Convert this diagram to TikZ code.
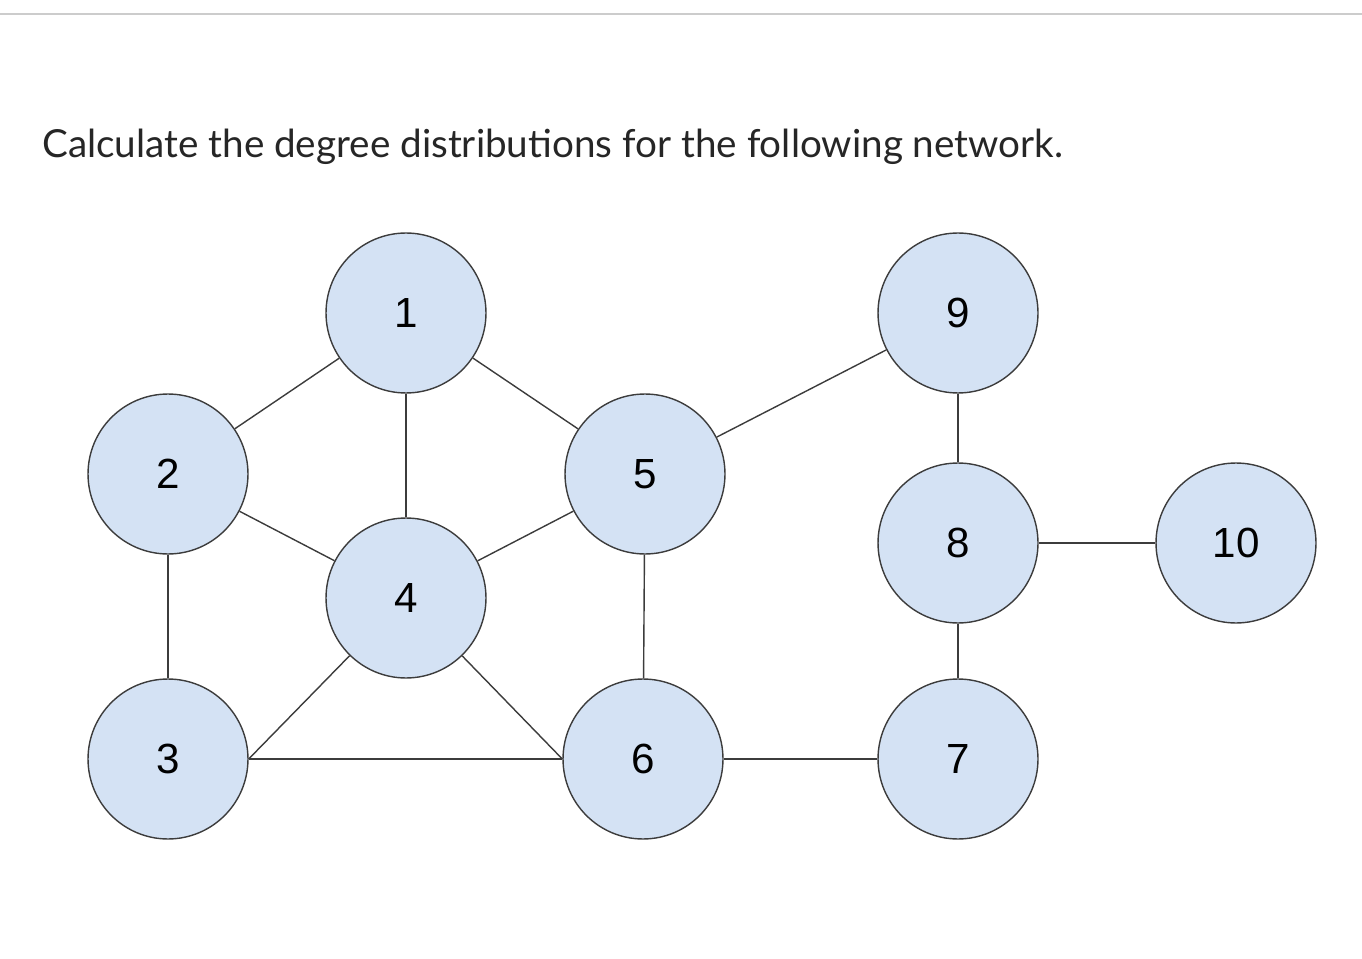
\documentclass[tikz,border=0pt]{standalone}
\usepackage{fontspec}
\setmainfont{Liberation Sans}
\newfontfamily\titlefont{Lato}
\definecolor{nodeblue}{RGB}{212,226,244}
\definecolor{edgegray}{RGB}{60,60,60}
\tikzset{
  vertex/.style={circle, draw=edgegray, thick, fill=nodeblue, minimum size=3.2cm, inner sep=0pt, font=\fontsize{24}{24}\selectfont},
  link/.style={draw=edgegray, thick}
}
\begin{document}
\begin{tikzpicture}[x=0.02cm, y=-0.02cm]
        \useasboundingbox (0,0) rectangle (1362,959);
        \draw[gray!40, thick] (0,14) -- (1362,14);
        \node[anchor=west, font=\titlefont\fontsize{22}{22}\selectfont, text=black!85] (title) at (36,147) {Calculate the degree distributions for the following network.};

        \node[vertex] (n1) at (406,313) {1};
        \node[vertex] (n2) at (168,474) {2};
        \node[vertex] (n3) at (168,759) {3};
        \node[vertex] (n4) at (406,598) {4};
        \node[vertex] (n5) at (645,474) {5};
        \node[vertex] (n6) at (643,759) {6};
        \node[vertex] (n7) at (958,759) {7};
        \node[vertex] (n8) at (958,543) {8};
        \node[vertex] (n9) at (958,313) {9};
        \node[vertex] (n10) at (1236,543) {10};

        \begin{scope}[on background layer/.style={}]
        \draw[link] (n1) -- (n2);
        \draw[link] (n1) -- (n4);
        \draw[link] (n1) -- (n5);
        \draw[link] (n2) -- (n4);
        \draw[link] (n2) -- (n3);
        \draw[link] (n4) -- (n5);
        \draw[link] (n4) -- (n3.east);
        \draw[link] (n4) -- (n6.west);
        \draw[link] (n3) -- (n6);
        \draw[link] (n5) -- (n6);
        \draw[link] (n5) -- (n9);
        \draw[link] (n9) -- (n8);
        \draw[link] (n8) -- (n10);
        \draw[link] (n8) -- (n7);
        \draw[link] (n6) -- (n7);
        \end{scope}
\end{tikzpicture}
\end{document}
